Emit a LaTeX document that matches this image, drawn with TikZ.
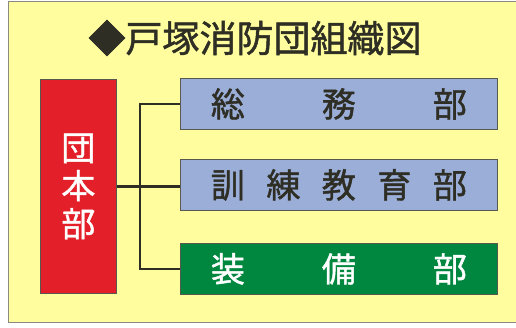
\documentclass[tikz,border=0pt]{standalone}
\usepackage{fontspec}
\setmainfont{Noto Sans CJK JP}[FakeBold=1.3]
\usetikzlibrary{positioning}

\definecolor{paper}{HTML}{FFFD9E}
\definecolor{framegray}{HTML}{8A8A80}
\definecolor{ink}{HTML}{2E2E24}
\definecolor{hqred}{HTML}{E3202A}
\definecolor{secblue}{HTML}{9AAED8}
\definecolor{secgreen}{HTML}{00873F}

\begin{document}
\begin{tikzpicture}[
        x=1pt, y=-1pt,
        section/.style={
            draw=ink!80,
            thick,
            anchor=north west,
            minimum width=317pt,
            minimum height=51pt,
            inner sep=0pt,
            font=\fontsize{34}{34}\selectfont
        },
        headoffice/.style={
            draw=ink!80,
            thick,
            fill=hqred,
            anchor=north west,
            minimum width=76pt,
            minimum height=214pt,
            inner sep=0pt,
            align=center,
            text=white,
            font=\fontsize{34}{38}\selectfont
        },
        link/.style={
            draw=ink,
            line width=2.6pt
        }
    ]

    \useasboundingbox (0,0) rectangle (516,327);
    \fill[white] (0,0) rectangle (516,327);
    \draw[fill=paper, draw=framegray, thick] (8,1) rectangle (530,322);

    % title
    \node[text=ink, font=\fontsize{37}{37}\selectfont] (title) at (255,38) {◆戸塚消防団組織図};

    % boxes
    \node[headoffice] (hq) at (40,79) {団\\本\\部};
    \node[section, fill=secblue, text=ink] (general) at (180,78)
        {\makebox[256pt]{総\hfill 務\hfill 部}};
    \node[section, fill=secblue, text=ink] (training) at (180,159)
        {\makebox[256pt]{訓\hfill 練\hfill 教\hfill 育\hfill 部}};
    \node[section, fill=secgreen, text=white] (equipment) at (180,243)
        {\makebox[256pt]{装\hfill 備\hfill 部}};

    % connectors
    \coordinate (trunk) at (140,0);
    \draw[link] (hq.east) -- (hq.east -| training.west);
    \draw[link] (general.west) -- (general.west -| trunk)
        -- (equipment.west -| trunk) -- (equipment.west);

    \end{tikzpicture}
\end{document}
